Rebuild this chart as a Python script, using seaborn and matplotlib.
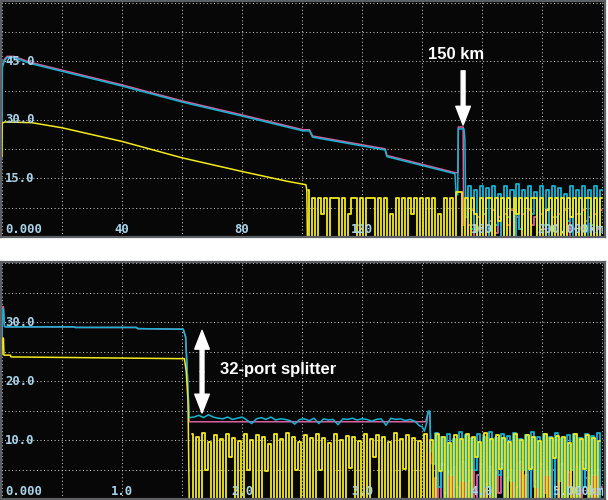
import numpy as np
import pandas as pd
import matplotlib.pyplot as plt
import seaborn as sns
from matplotlib.patches import FancyArrowPatch

sns.set_theme(style='dark')
plt.rcParams['font.family'] = ['DejaVu Sans']

# ---- TOP TRACE (0-200 km, 0-60 dB) ----
pink_top_km = [0, 0.1, 0.8, 1.7, 4, 9.3, 40, 60, 80, 100.3, 102.5, 103.5, 127.7, 128.3, 151, 152, 152.1, 153.7, 153.9]
pink_top_db = [27.0, 43.8, 45.6, 46.3, 46.3, 44.8, 39.0, 34.9, 31.3, 27.5, 27.5, 25.9, 22.6, 20.9, 16.5, 16.5, 28.2, 28.2, 3.0]
cyan_top_km = [0, 0.1, 0.8, 1.7, 4, 9.3, 40, 60, 80, 100.3, 102.5, 103.5, 127.7, 128.3, 151, 151.4, 151.9, 152.1, 154.0, 154.3, 154.6]
cyan_top_db = [27.0, 43.5, 45.2, 46.0, 46.0, 44.5, 38.7, 34.6, 31.0, 27.2, 27.2, 25.6, 22.3, 20.6, 16.2, 10.8, 10.8, 27.7, 27.7, 25.0, 5.0]
yellow_top_km = [0, 0.1, 1, 10, 20, 40, 60, 80, 95, 101.3, 101.6, 101.8]
yellow_top_db = [20.5, 29.2, 29.5, 29.3, 28.0, 24.5, 20.3, 16.8, 14.3, 13.4, 12.0, 0.0]

# noise after the fibre end, one sample per km
yellow_top_noise_start = 102
yellow_top_noise = [12, 0, 10, 0, 10, 6, 10, 0, 10, 10, 10, 0, 10, 0, 6, 10, 10, 0, 10, 0,
                    10, 10, 10, 0, 10, 0, 10, 0, 6, 0, 10, 0, 10, 0, 10, 6, 10, 0, 10, 0,
                    10, 0, 10, 0, 6, 0, 10, 0, 10, 0, 11.5, 11.5, 0,
                    10, 0, 10, 6, 0, 10, 0, 10, 10, 0, 10, 4, 10, 0, 10, 0, 10, 6, 10, 0,
                    10, 0, 10, 10, 0, 10, 0, 7, 10, 0, 10, 0, 10, 0, 10, 5, 10, 0, 10, 0,
                    10, 10, 0, 10, 0, 10]
cyan_top_noise_start = 155
cyan_top_noise = [5, 13, 2, 12, 0, 13, 6, 12.5, 0, 13, 3, 11, 0, 13, 5, 12, 0, 13.5, 2, 12,
                  0, 13, 6, 11.5, 0, 13, 3, 12, 0, 13, 5, 12.5, 0, 11, 4, 13, 0, 12, 6, 13,
                  0, 12, 3, 13, 0, 12]
pink_top_noise = [0, 3, 7, 0, 5, 2, 6, 0, 4, 7, 1, 5, 0, 6, 3, 7, 0, 5, 2, 6,
                  0, 7, 3, 5, 0, 6, 2, 7, 0, 5, 3, 6, 1, 7, 0, 5, 2, 6, 0, 7,
                  4, 5, 0, 6, 2, 7]

# ---- BOTTOM TRACE (0-5 km, 0-40 dB) ----
cyan_bot_km = [0, 0.004, 0.012, 0.02, 0.03, 0.6, 0.61, 1.12, 1.13, 1.51, 1.53, 1.545, 1.56]
cyan_bot_db = [27.5, 32.2, 32.2, 29.3, 29.2, 29.2, 29.1, 29.1, 28.9, 28.8, 27.5, 21.0, 13.8]
cyan_bot_floor_start = 1.60
cyan_bot_floor_step = 0.04
cyan_bot_floor = [13.9, 14.2, 13.8, 14.3, 13.9, 13.7, 13.6, 13.9, 13.5, 13.7,
                  13.9, 13.4, 12.8, 13.6, 13.8, 13.5, 13.9, 13.4, 13.6, 13.5,
                  13.3, 12.7, 13.5, 13.6, 13.3, 13.7, 12.8, 13.6, 13.4, 13.5,
                  12.6, 13.6, 13.5, 13.7, 13.4, 13.6, 13.5, 13.2, 13.5, 13.6,
                  12.5, 13.7, 13.5, 13.6, 13.3, 13.5, 13.2, 12.4]
cyan_bot_end_km = [3.50, 3.52, 3.54, 3.55, 3.565, 3.575]
cyan_bot_end_db = [12.3, 11.5, 13.0, 14.9, 14.9, 8.0]
pink_bot_km = [0, 0.004, 0.012, 0.02, 0.03, 0.6, 0.61, 1.12, 1.13, 1.51, 1.53, 1.545, 1.56, 3.53, 3.55, 3.565, 3.575]
pink_bot_db = [27.5, 32.6, 32.6, 29.3, 29.2, 29.2, 29.1, 29.1, 28.9, 28.8, 27.5, 21.0, 13.1, 13.1, 14.6, 14.6, 6.0]
yellow_bot_km = [0, 0.003, 0.012, 0.016, 0.07, 0.075, 1.52, 1.535, 1.55, 1.56]
yellow_bot_db = [24.5, 27.3, 27.3, 24.4, 24.4, 24.1, 23.8, 21.7, 16.6, 0.0]

bot_noise_step = 0.025
yellow_bot_noise_start = 1.58
yellow_bot_noise = [11.0, 0, 10.6, 0, 11.2, 5.0, 9.6, 0, 10.9, 0, 10.2, 0, 11.0, 7.2, 10.4, 0, 9.8, 0, 11.1, 5.0,
                    10.0, 0, 10.8, 0, 10.5, 4.8, 9.4, 0, 11.0, 0, 10.1, 0, 11.2, 0, 10.6, 4.9, 9.7, 0, 10.9, 0,
                    10.3, 0, 11.0, 5.0, 10.4, 0, 9.5, 0, 11.1, 0, 10.0, 0, 10.7, 5.2, 10.5, 0, 9.9, 0, 11.0, 0,
                    10.2, 7.1, 10.9, 0, 10.6, 0, 9.6, 0, 11.2, 0, 10.1, 5.1, 10.8, 0, 10.3, 0, 9.8, 0, 11.0, 0,
                    10.0, 0, 11.1, 4.8, 10.5, 0, 9.5, 0, 10.9, 0, 10.2, 0, 11.0, 0, 10.6, 7.2, 9.7, 0, 11.2, 0,
                    10.1, 0, 10.8, 5.1, 10.4, 0, 9.6, 0, 11.0, 0, 10.0, 0, 10.9, 5.1, 10.5, 0, 9.8, 0, 11.1, 0,
                    10.3, 7.0, 10.7, 0, 10.6, 0, 9.5, 0, 11.0, 0, 10.2, 5.1, 10.8, 0, 10.4, 0, 9.9]
cyan_bot_noise_start = 3.6
cyan_bot_noise = [6, 11.2, 2, 10.5, 0, 11.0, 4, 10.2, 0, 11.4, 3, 10.8, 0, 10.3, 5, 11.1, 0, 10.6, 2, 11.3,
                  0, 10.4, 4, 11.0, 0, 10.7, 3, 11.2, 0, 10.1, 5, 10.9, 0, 11.3, 2, 10.5, 0, 11.0, 4, 10.6,
                  0, 11.2, 3, 10.4, 0, 10.9, 5, 11.1, 0, 10.3, 2, 11.0, 0, 10.7, 4, 11.2, 0]
pink_bot_noise = [0, 3.5, 0, 6.0, 1, 4.5, 0, 5.5, 2, 0, 6.2, 0, 3.0, 5.0, 0, 4.0, 6.0, 0, 2.5, 5.5,
                  0, 4.5, 1, 6.0, 0, 3.5, 5.0, 0, 2.0, 6.2, 0, 4.0, 0, 5.5, 3.0, 0, 6.0, 1, 4.5, 0,
                  5.0, 0, 3.0, 6.0, 0, 4.5, 2, 0, 5.5, 0, 6.2, 3.5, 0, 4.0, 0, 5.0, 2]

top_xlabel_km = [0, 40, 80, 120, 160, 200]
top_xlabels = ['0.000', '40', '80', '120', '160', '200.000km']
top_ylabel_db = [45, 30, 15]
top_ylabels = ['45.0', '30.0', '15.0']
bot_xlabel_km = [0, 1, 2, 3, 4, 5]
bot_xlabels = ['0.000', '1.0', '2.0', '3.0', '4.0', '5.000km']
bot_ylabel_db = [30, 20, 10]
bot_ylabels = ['30.0', '20.0', '10.0']

palette = {'pink': '#d9609f', 'cyan': '#14b4d4', 'yellow': '#f2ea1c'}
order = ['pink', 'cyan', 'yellow']
label_color = '#a9d3ea'


def frame(parts):
    rows = []
    for name, km, db in parts:
        rows.append(pd.DataFrame({'km': km, 'dB': db, 'trace': name}))
    return pd.concat(rows, ignore_index=True)


def noise(name, start, step, values):
    km = start + step * np.arange(len(values))
    return pd.DataFrame({'km': km, 'dB': values, 'trace': name})


def style_axes(ax, xlim, ylim, xticks, yticks):
    ax.set_facecolor('#070707')
    ax.set_xlim(*xlim)
    ax.set_ylim(*ylim)
    ax.set_xticks(xticks)
    ax.set_yticks(yticks)
    ax.tick_params(length=0, labelbottom=False, labelleft=False)
    ax.grid(True, color='#c4c4c4', linestyle=(0, (1, 2.4)), linewidth=0.75)
    ax.set_xlabel('')
    ax.set_ylabel('')
    for s in ax.spines.values():
        s.set_visible(True)
        s.set_color('#5c6064')
        s.set_linewidth(1.6)


def scale_labels(ax, xkm, xtxt, ydb, ytxt):
    n = len(xkm)
    for i, (k, t) in enumerate(zip(xkm, xtxt)):
        ha, dx = 'center', 0
        if i == 0:
            ha, dx = 'left', 2
        elif i == n - 1:
            ha, dx = 'right', 1.5
        ax.annotate(t, xy=(k, 0), xycoords=ax.get_xaxis_transform(), xytext=(dx, 5.5),
                    textcoords='offset points', ha=ha, va='center', color=label_color,
                    fontsize=8.8, family='DejaVu Sans Mono', fontweight='bold', zorder=6)
    for d, t in zip(ydb, ytxt):
        ax.annotate(t, xy=(0, d), xycoords=ax.get_yaxis_transform(), xytext=(3, 0),
                    textcoords='offset points', ha='left', va='center', color=label_color,
                    fontsize=8.8, family='DejaVu Sans Mono', fontweight='bold', zorder=6)


def white_arrow(ax, start, end):
    ax.add_patch(FancyArrowPatch(start, end, arrowstyle='simple,head_length=13.5,head_width=10.5,tail_width=2.8',
                                 mutation_scale=1, color='white', shrinkA=0, shrinkB=0, zorder=5))


fig = plt.figure(figsize=(6.08, 5.0), dpi=100, facecolor='white')
ax1 = fig.add_axes([1 / 608, 263 / 500, 604 / 608, 236 / 500])
ax2 = fig.add_axes([1 / 608, 1 / 500, 604 / 608, 237 / 500])

# top panel
top_smooth = frame([('pink', pink_top_km, pink_top_db),
                    ('cyan', cyan_top_km, cyan_top_db),
                    ('yellow', yellow_top_km, yellow_top_db)])
top_noise = pd.concat([noise('pink', cyan_top_noise_start, 1, pink_top_noise),
                       noise('cyan', cyan_top_noise_start, 1, cyan_top_noise),
                       noise('yellow', yellow_top_noise_start, 1, yellow_top_noise)], ignore_index=True)
sns.lineplot(data=top_smooth, x='km', y='dB', hue='trace', hue_order=order, palette=palette,
             estimator=None, sort=False, legend=False, linewidth=1.1, ax=ax1)
sns.lineplot(data=top_noise, x='km', y='dB', hue='trace', hue_order=order, palette=palette,
             estimator=None, sort=False, legend=False, linewidth=1.3, drawstyle='steps-mid', ax=ax1)
style_axes(ax1, (-1 / 3, 201), (0, 60.5), np.arange(0, 201, 20), np.arange(0, 61, 7.5))
scale_labels(ax1, top_xlabel_km, top_xlabels, top_ylabel_db, top_ylabels)
ax1.text(151.3, 46.7, '150 km', color='white', fontsize=12, fontweight='bold',
         family=['Liberation Sans', 'DejaVu Sans'], ha='center', va='center')
white_arrow(ax1, (153.7, 42.6), (153.7, 28.7))

# bottom panel
bot_smooth = frame([('pink', pink_bot_km, pink_bot_db),
                    ('cyan', cyan_bot_km, cyan_bot_db),
                    ('yellow', yellow_bot_km, yellow_bot_db)])
floor = noise('cyan', cyan_bot_floor_start, cyan_bot_floor_step, cyan_bot_floor)
cyan_tail = pd.DataFrame({'km': cyan_bot_end_km, 'dB': cyan_bot_end_db, 'trace': 'cyan'})
bot_smooth = pd.concat([bot_smooth, floor, cyan_tail], ignore_index=True)
bot_noise = pd.concat([noise('pink', cyan_bot_noise_start, bot_noise_step, pink_bot_noise),
                       noise('cyan', cyan_bot_noise_start, bot_noise_step, cyan_bot_noise),
                       noise('yellow', yellow_bot_noise_start, bot_noise_step, yellow_bot_noise)], ignore_index=True)
sns.lineplot(data=bot_smooth, x='km', y='dB', hue='trace', hue_order=order, palette=palette,
             estimator=None, sort=False, legend=False, linewidth=1.1, ax=ax2)
sns.lineplot(data=bot_noise, x='km', y='dB', hue='trace', hue_order=order, palette=palette,
             estimator=None, sort=False, legend=False, linewidth=1.3, drawstyle='steps-mid', ax=ax2)
style_axes(ax2, (-1 / 120, 5.025), (0, 40.2), np.arange(0, 5.01, 0.5), np.arange(0, 41, 5))
scale_labels(ax2, bot_xlabel_km, bot_xlabels, bot_ylabel_db, bot_ylabels)
ax2.text(1.817, 22.0, '32-port splitter', color='white', fontsize=12, fontweight='bold',
         family=['Liberation Sans', 'DejaVu Sans'], ha='left', va='center')
white_arrow(ax2, (1.667, 21.6), (1.667, 28.6))
white_arrow(ax2, (1.667, 21.6), (1.667, 14.6))

fig.savefig('out.png', dpi=100, facecolor='white')
